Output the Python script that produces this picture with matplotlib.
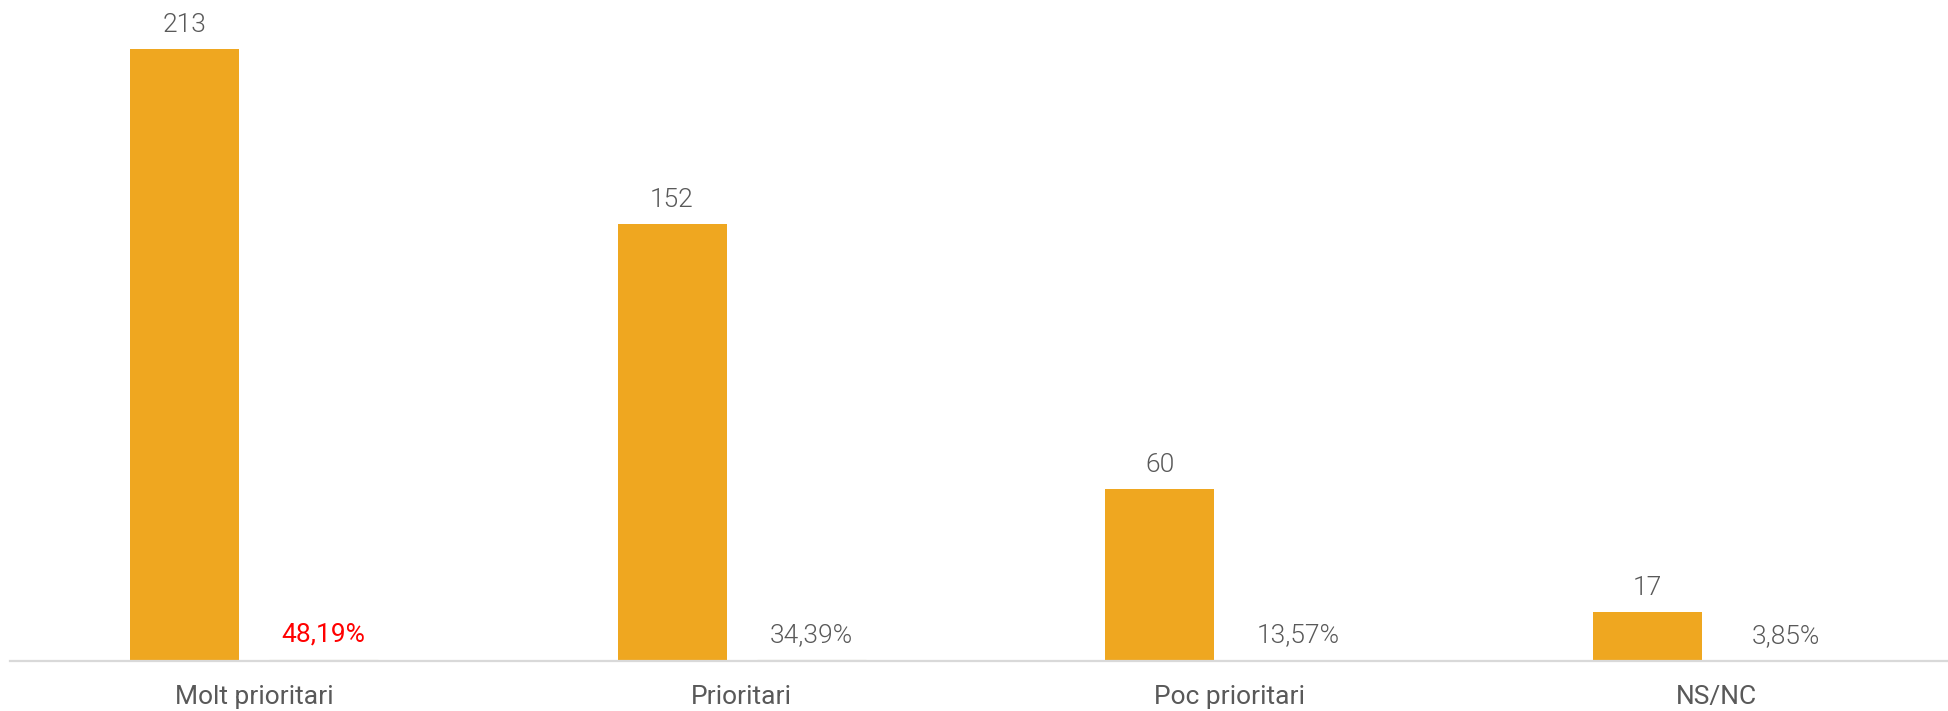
"""Priority distribution: counts and shares per category."""

import matplotlib.pyplot as plt
import numpy as np

categories = ["Molt prioritari", "Prioritari", "Poc prioritari", "NS/NC"]
counts = [213, 152, 60, 17]
shares = [0.4819, 0.3439, 0.1357, 0.0385]
share_labels = ["48,19%", "34,39%", "13,57%", "3,85%"]

BAR_COLOR = "#EFA720"
SHARE_COLOR = "#B3AC8C"
TEXT_COLOR = "#595959"


def main() -> None:
    plt.rcParams["font.family"] = ["Roboto", "DejaVu Sans"]

    fig = plt.figure(figsize=(19.49, 7.11), dpi=100)
    ax = fig.add_axes([10 / 1949, 50 / 711, 1939 / 1949, 661 / 711])

    x = np.arange(len(categories))
    width = 0.2235
    offset = 0.1425

    ax.bar(x - offset, counts, width, color=BAR_COLOR)
    ax.bar(x + offset, shares, width, color=SHARE_COLOR, edgecolor=SHARE_COLOR, linewidth=0.8)

    for xi, val in zip(x, counts):
        ax.annotate(
            str(val), (xi - offset, val), xytext=(0, 12), textcoords="offset points",
            ha="center", va="baseline", fontsize=19, color=TEXT_COLOR, fontweight=300,
        )
    for i, (xi, val, lab) in enumerate(zip(x, shares, share_labels)):
        first = i == 0
        ax.annotate(
            lab, (xi + offset, val), xytext=(0, 13), textcoords="offset points",
            ha="center", va="baseline", fontsize=19,
            color="#FF0000" if first else TEXT_COLOR,
            fontweight=400 if first else 300,
        )

    ax.set_xlim(-0.5, 3.476)
    ax.set_ylim(0, 230)
    ax.set_xticks(x)
    ax.set_xticklabels(categories, fontsize=19, color=TEXT_COLOR)
    ax.tick_params(axis="x", length=0, pad=17)
    ax.set_yticks([])
    for side in ("top", "right", "left"):
        ax.spines[side].set_visible(False)
    ax.spines["bottom"].set_color("#D9D9D9")
    ax.spines["bottom"].set_linewidth(1.6)

    fig.savefig("out.png", dpi=100)
    plt.close(fig)


if __name__ == "__main__":
    main()
